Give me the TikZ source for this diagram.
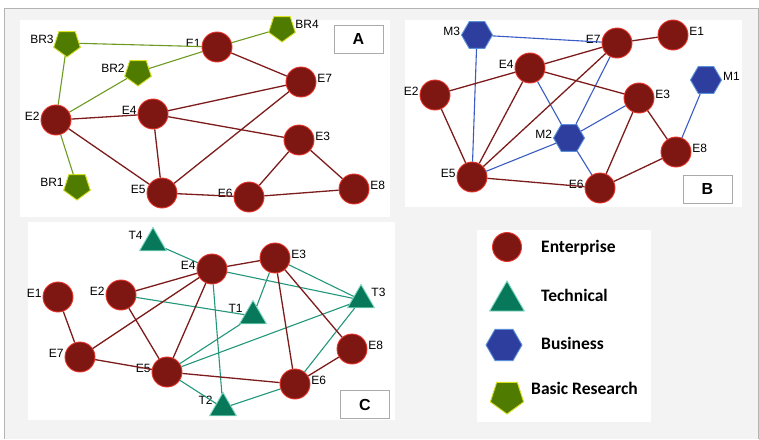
\documentclass[tikz,border=0pt]{standalone}
\usepackage{fontspec}
\setmainfont{Liberation Sans}
\newfontfamily\legendfont{Carlito}
\usetikzlibrary{shapes.geometric}

\definecolor{entfill}{HTML}{7E1612}
\definecolor{entrim}{HTML}{E8352B}
\definecolor{entedge}{HTML}{7D1C1C}
\definecolor{techfill}{HTML}{07785A}
\definecolor{techrim}{HTML}{7FD8C0}
\definecolor{techedge}{HTML}{23977A}
\definecolor{busfill}{HTML}{2E3E9E}
\definecolor{busrim}{HTML}{5B8FD8}
\definecolor{busedge}{HTML}{3A5CC4}
\definecolor{resfill}{HTML}{4E7B00}
\definecolor{resrim}{HTML}{D8E020}
\definecolor{resedge}{HTML}{6E9A22}
\definecolor{framegray}{HTML}{F3F3F3}
\definecolor{frameline}{HTML}{B4B4B4}
\definecolor{tagline}{HTML}{AAAAAA}

\tikzset{
  ent/.style={circle,fill=entfill,draw=entrim,line width=0.9pt,minimum size=30pt,inner sep=0pt},
  tech/.style={regular polygon,regular polygon sides=3,fill=techfill,draw=techrim,
    line width=0.9pt,minimum size=31pt,inner sep=0pt},
  bus/.style={regular polygon,regular polygon sides=6,fill=busfill,draw=busrim,
    line width=0.9pt,minimum size=31pt,inner sep=0pt},
  res/.style={regular polygon,regular polygon sides=5,shape border rotate=180,fill=resfill,
    draw=resrim,line width=0.9pt,minimum size=28pt,inner sep=0pt},
  lbl/.style={font=\fontsize{12}{12}\selectfont,inner sep=0.8pt,yshift=4pt},
  tlbl/.style={lbl,yshift=4pt},
  link/.style={line width=1.3pt},
  panel/.style={fill=white,draw=none,anchor=north west,inner sep=0pt},
  tag/.style={draw=tagline,fill=white,minimum width=49pt,minimum height=28pt,
    font=\fontsize{16}{16}\selectfont\bfseries},
  legtext/.style={anchor=west,inner sep=0pt,
    font=\legendfont\fontsize{17.5}{17.5}\selectfont\bfseries},
}

\begin{document}
\begin{tikzpicture}[x=1pt,y=-1pt]
\useasboundingbox[fill=white] (0,0) rectangle (759,439);
\fill[framegray] (4,8) rectangle (758,439);
\draw[frameline] (4,439) -- (4,8) -- (758,8) -- (758,439);

% panels
\node[panel,minimum width=370pt,minimum height=197pt] (panelA) at (20,20) {};
\node[panel,minimum width=337pt,minimum height=187pt] (panelB) at (405,20) {};
\node[panel,minimum width=367pt,minimum height=198pt] (panelC) at (28,222) {};
\node[panel,minimum width=174pt,minimum height=192pt] (panelL) at (477,230) {};

% network A: enterprises and basic research
\node[res,label={[lbl]left:BR3}] (A-BR3) at (67,43) {};
\node[res,label={[lbl]right:BR4}] (A-BR4) at (282,28) {};
\node[res,label={[lbl]left:BR2}] (A-BR2) at (138,72) {};
\node[res,label={[lbl]left:BR1}] (A-BR1) at (77,186) {};
\node[ent,label={[lbl]left:E1}] (A-E1) at (217,47) {};
\node[ent,label={[lbl]right:E7}] (A-E7) at (301,82) {};
\node[ent,label={[lbl]left:E2}] (A-E2) at (56,120) {};
\node[ent,label={[lbl]left:E4}] (A-E4) at (153,114) {};
\node[ent,label={[lbl]right:E3}] (A-E3) at (299,140) {};
\node[ent,label={[lbl]left:E5}] (A-E5) at (162,193) {};
\node[ent,label={[lbl]left:E6}] (A-E6) at (249,197) {};
\node[ent,label={[lbl]right:E8}] (A-E8) at (354,189) {};
\foreach \a/\b in {BR3/E1,BR3/E2,BR2/E2,BR2/E1,BR4/E1,BR1/E2}
  \draw[link,resedge,line width=1.1pt] (A-\a) -- (A-\b);
\foreach \a/\b in {E1/E7,E2/E4,E2/E5,E4/E7,E4/E3,E4/E5,E5/E7,E5/E6,E6/E3,E6/E8,E3/E8}
  \draw[link,entedge] (A-\a) -- (A-\b);
\node[tag] (tagA) at (358.5,39) {A};

% network B: enterprises and business
\node[bus,label={[lbl]left:M3}] (B-M3) at (477,35) {};
\node[bus,label={[lbl]right:M1}] (B-M1) at (706,80) {};
\node[bus,label={[lbl]left:M2}] (B-M2) at (569,138) {};
\node[ent,label={[lbl]left:E7}] (B-E7) at (617,43) {};
\node[ent,label={[lbl]right:E1}] (B-E1) at (673,35) {};
\node[ent,label={[lbl]left:E4}] (B-E4) at (530,68) {};
\node[ent,label={[lbl]left:E2}] (B-E2) at (435,95) {};
\node[ent,label={[lbl]right:E3}] (B-E3) at (639,98) {};
\node[ent,label={[lbl]right:E8}] (B-E8) at (676,152) {};
\node[ent,label={[lbl]left:E5}] (B-E5) at (472,177) {};
\node[ent,label={[lbl]left:E6}] (B-E6) at (600,188) {};
\foreach \a/\b in {M3/E7,M3/E5,M2/E4,M2/E7,M2/E3,M2/E5,M2/E6,M1/E8}
  \draw[link,busedge,line width=1.1pt] (B-\a) -- (B-\b);
\foreach \a/\b in {E7/E1,E4/E7,E4/E2,E4/E3,E4/E5,E7/E5,E2/E5,E5/E6,E3/E6,E3/E8,E6/E8}
  \draw[link,entedge] (B-\a) -- (B-\b);
\node[tag] (tagB) at (707.5,189) {B};

% network C: enterprises and technical
\node[tech,label={[tlbl]left:T4}] (C-T4) at (153,243) {};
\node[tech,label={[tlbl]left:T1}] (C-T1) at (253,316) {};
\node[tech,label={[tlbl]right:T3}] (C-T3) at (361,300) {};
\node[tech,label={[tlbl]left:T2}] (C-T2) at (223,408) {};
\node[ent,label={[lbl]left:E4}] (C-E4) at (212,269) {};
\node[ent,label={[lbl]right:E3}] (C-E3) at (275,258) {};
\node[ent,label={[lbl]left:E1}] (C-E1) at (58,297) {};
\node[ent,label={[lbl]left:E2}] (C-E2) at (121,295) {};
\node[ent,label={[lbl]right:E8}] (C-E8) at (352,349) {};
\node[ent,label={[lbl]left:E7}] (C-E7) at (80,357) {};
\node[ent,label={[lbl]left:E5}] (C-E5) at (167,372) {};
\node[ent,label={[lbl]right:E6}] (C-E6) at (295,384) {};
\foreach \a/\b in {T4/E4,E4/T3,E4/T2,E3/T3,E3/T1,E2/T1,T1/E5,T3/E5,T3/E6,T2/E5,T2/E6}
  \draw[link,techedge,line width=1.1pt] (C-\a) -- (C-\b);
\foreach \a/\b in {E4/E3,E4/E2,E4/E7,E4/E5,E2/E5,E1/E7,E7/E5,E5/E6,E3/E6,E3/E8,E8/E6}
  \draw[link,entedge] (C-\a) -- (C-\b);
\node[tag] (tagC) at (365,404.5) {C};

% legend
\node[ent,minimum size=29pt] (legE) at (507,247) {};
\node[tech,minimum size=40pt] (legT) at (507,301) {};
\node[bus,minimum size=36pt] (legB) at (504,345) {};
\node[res,minimum size=35pt] (legR) at (507,396.5) {};
\node[legtext] (legEtext) at (541,248) {Enterprise};
\node[legtext] (legTtext) at (541,295) {Technical};
\node[legtext] (legBtext) at (541,343) {Business};
\node[legtext] (legRtext) at (531,388) {Basic Research};

\end{tikzpicture}
\end{document}
